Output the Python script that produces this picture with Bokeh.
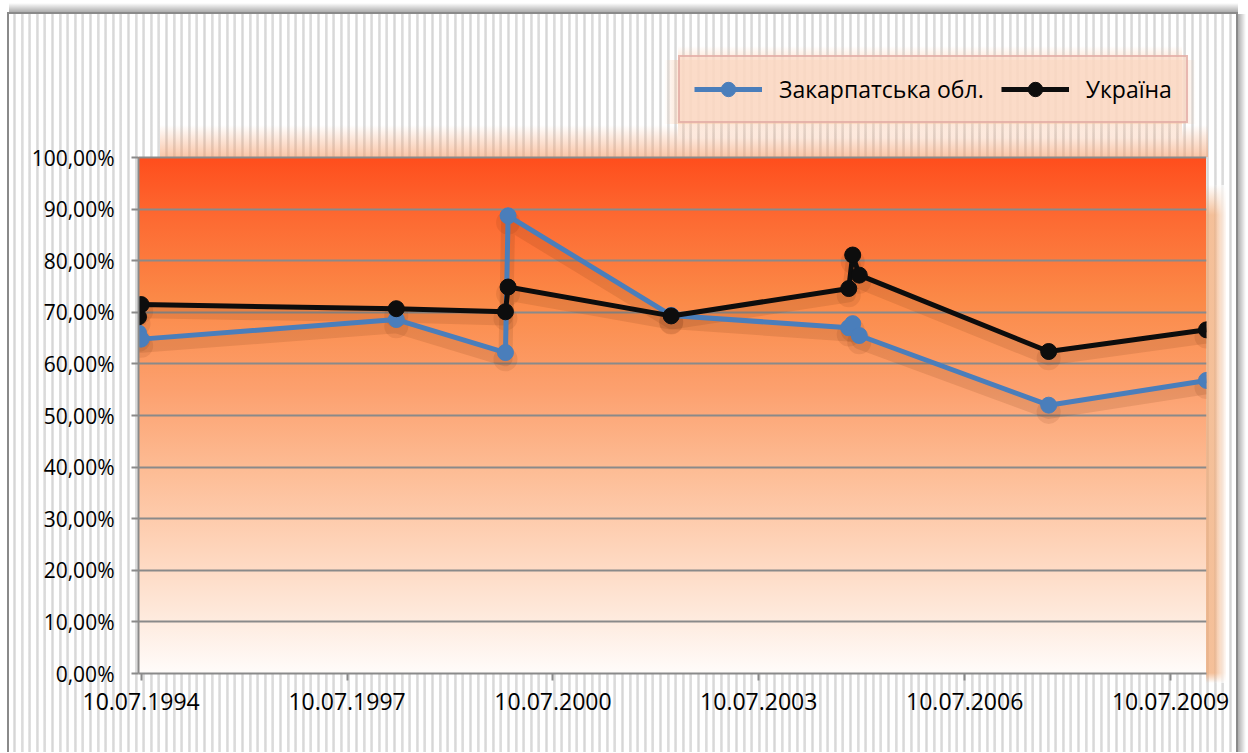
from datetime import datetime

from bokeh.plotting import figure
from bokeh.models import (ColumnDataSource, Range1d, FixedTicker, DatetimeTickFormatter,
                          Legend, LegendItem)
from bokeh.transform import dodge
from bokeh.embed import file_html
from bokeh.resources import INLINE

# ---------------- data ----------------
election_dates = ["1994-06-26", "1994-07-10", "1998-03-29", "1999-10-31", "1999-11-14",
                  "2002-03-31", "2004-10-31", "2004-11-21", "2004-12-26", "2007-09-30",
                  "2010-01-17"]
zakarpattia = [66.0, 64.8, 68.6, 62.2, 88.7, 69.4, 67.0, 67.8, 65.5, 52.0, 56.8]
ukraine = [69.1, 71.5, 70.7, 70.1, 74.9, 69.3, 74.6, 81.1, 77.2, 62.4, 66.6]
series_names = ["Закарпатська обл.", "Україна"]

x_tick_dates = ["1994-07-10", "1997-07-10", "2000-07-10", "2003-07-10", "2006-07-10", "2009-07-10"]
y_ticks = [0, 10, 20, 30, 40, 50, 60, 70, 80, 90, 100]
y_tick_labels = ["0,00%", "10,00%", "20,00%", "30,00%", "40,00%", "50,00%",
                 "60,00%", "70,00%", "80,00%", "90,00%", "100,00%"]

# ---------------- helpers ----------------
def to_dt(s):
    return datetime.strptime(s, "%Y-%m-%d")

EPOCH = datetime(1970, 1, 1)

def to_ms(s):
    return (to_dt(s) - EPOCH).total_seconds() * 1000.0

dates = [to_dt(d) for d in election_dates]
src_blue = ColumnDataSource(dict(x=dates, y=zakarpattia))
src_black = ColumnDataSource(dict(x=dates, y=ukraine))

# ---------------- layout / decoration ----------------
W, H = 1248, 752
LEFT, FW = 138, 1068            # plot area: x 138 .. 1206
PLOT_TOP, PLOT_BOTTOM = 157, 673  # 100 % at y=157, 0 % at y=673
FRAME_TOP = 40                  # frame reaches up so the legend lies inside it
RIGHT = W - LEFT - FW
BOTTOM = H - PLOT_BOTTOM
FH = PLOT_BOTTOM - FRAME_TOP
PH = PLOT_BOTTOM - PLOT_TOP
Y_MAX = y_ticks[-1] * FH / PH

plot_gradient = ("linear-gradient(to bottom, #ff4d1c 0%, #fd6a32 12%, #fb8a48 28%, "
                 "#fca06e 45%, #fdbb93 60%, #fed3b8 75%, #fee8da 88%, #fffcfa 100%)")
stripes = ("repeating-linear-gradient(90deg, #ffffff 0px, #ffffff 4px, #e8e8e8 4px, "
           "#d6d6d6 5.5px, #e8e8e8 7px, #ffffff 7px, #ffffff 7.6px)")
top_glow = "linear-gradient(to top, rgba(246,160,110,0.6), rgba(246,160,110,0))"
right_glow = ("linear-gradient(to bottom, rgba(240,165,110,0) 0px, rgba(240,165,110,0.7) 30px, "
              "rgba(240,165,110,0.7) calc(100% - 10px), rgba(240,165,110,0) 100%)")
right_glow_h = "linear-gradient(to right, rgba(255,255,255,0) 40%, rgba(255,255,255,0.9))"
lg = "rgba(250,196,160,0.42)"
legend_glow_h = f"linear-gradient(to right, rgba(250,196,160,0), {lg} 14px, {lg} calc(100% - 14px), rgba(250,196,160,0))"
legend_glow_v = f"linear-gradient(to bottom, rgba(250,196,160,0), {lg} 14px, {lg} calc(100% - 14px), rgba(250,196,160,0))"
gray = "linear-gradient(#8a8a8a, #8a8a8a)"
top_shadow = "linear-gradient(to bottom, rgba(0,0,0,0), rgba(0,0,0,0.32))"
right_shadow = "linear-gradient(to right, rgba(0,0,0,0.32), rgba(0,0,0,0))"

bg_layers = [
    f"{plot_gradient} {LEFT}px {PLOT_TOP}px / {FW}px {PH}px no-repeat",
    f"{right_glow_h} {LEFT + FW}px {PLOT_TOP + 28}px / 20px {PH - 18}px no-repeat",
    f"{right_glow} {LEFT + FW}px {PLOT_TOP + 28}px / 20px {PH - 18}px no-repeat",
    f"{top_glow} {LEFT + 22}px {PLOT_TOP - 32}px / {FW - 20}px 32px no-repeat",
    f"{legend_glow_h} 664px 60px / 532px 64px no-repeat",
    f"{legend_glow_v} 678px 46px / 504px 92px no-repeat",
    f"{gray} 7px 12px / 2px 100% no-repeat",
    f"{gray} 7px 12px / 1231px 2px no-repeat",
    f"{gray} 1236px 12px / 2px 100% no-repeat",
    f"{top_shadow} 9px 3px / 1229px 9px no-repeat",
    f"{right_shadow} 1238px 14px / 8px 100% no-repeat",
    f"{stripes} 9px 14px / 1227px 100% no-repeat",
]

p = figure(
    width=W, height=H,
    x_axis_type="datetime",
    x_range=Range1d(to_dt(election_dates[0]), to_dt(election_dates[-1])),
    y_range=Range1d(0, Y_MAX),
    output_backend="svg", toolbar_location=None,
    min_border_left=LEFT, min_border_right=RIGHT,
    min_border_top=FRAME_TOP, min_border_bottom=BOTTOM,
)
p.border_fill_color = None
p.background_fill_color = None
p.outline_line_color = None
p.styles = {"background": ", ".join(bg_layers), "background-color": "#ffffff"}

# axes
p.xaxis.ticker = FixedTicker(ticks=[to_ms(d) for d in x_tick_dates])
p.xaxis.formatter = DatetimeTickFormatter(
    days="%d.%m.%Y", months="%d.%m.%Y", years="%d.%m.%Y", hours="%d.%m.%Y")
p.yaxis.ticker = FixedTicker(ticks=y_ticks)
p.yaxis.major_label_overrides = {t: l for t, l in zip(y_ticks, y_tick_labels)}
p.yaxis.bounds = (y_ticks[0], y_ticks[-1])

for ax in (p.xaxis[0], p.yaxis[0]):
    ax.axis_line_color = "#8a8a8a"
    ax.axis_line_width = 2
    ax.major_tick_line_color = "#8a8a8a"
    ax.major_tick_line_width = 2
    ax.major_tick_out = 7
    ax.major_tick_in = 0
    ax.minor_tick_line_color = None
    ax.major_label_text_font = "Open Sans"
    ax.major_label_text_color = "#000000"
p.yaxis.major_label_text_font_size = "21px"
p.yaxis.major_label_standoff = 17
p.xaxis.major_label_text_font_size = "23px"
p.xaxis.major_label_standoff = 12

p.xgrid.grid_line_color = None
p.ygrid.grid_line_color = "#8a8a8a"
p.ygrid.grid_line_width = 2
p.ygrid.bounds = (y_ticks[0], y_ticks[-1])

# soft shadows, a little below the lines
for src in (src_blue, src_black):
    p.line(x="x", y=dodge("y", -1.3, range=p.y_range), source=src,
           line_color="#5e2608", line_alpha=0.12, line_width=14, line_join="round")
    p.scatter(x="x", y=dodge("y", -1.3, range=p.y_range), source=src, size=24,
              fill_color="#5e2608", fill_alpha=0.10, line_color=None)

BLUE = "#4a7ebb"
BLACK = "#0d0d0d"
bl = p.line(x="x", y="y", source=src_blue, line_color=BLUE, line_width=5, line_join="round")
bs = p.scatter(x="x", y="y", source=src_blue, size=16, fill_color=BLUE, line_color=BLUE)
kl = p.line(x="x", y="y", source=src_black, line_color=BLACK, line_width=5, line_join="round")
ks = p.scatter(x="x", y="y", source=src_black, size=16, fill_color=BLACK, line_color=BLACK)

# legend: box from (678, 60) to (1185, 123) in page pixels
legend = Legend(
    items=[LegendItem(label=series_names[0], renderers=[bl, bs]),
           LegendItem(label=series_names[1], renderers=[kl, ks])],
    orientation="horizontal",
    location=(678 - LEFT, PLOT_BOTTOM - 123),
    margin=0,
    padding=14,
    spacing=17,
    glyph_width=68,
    glyph_height=36,
    label_standoff=17,
    label_text_font="Open Sans",
    label_text_font_size="23px",
    label_text_color="#000000",
    border_line_color="#d48e8e",
    border_line_width=2,
    background_fill_color="#fbdccb",
    background_fill_alpha=0.72,
)
p.add_layout(legend, "center")

open("out.html", "w").write(file_html(p, INLINE))
